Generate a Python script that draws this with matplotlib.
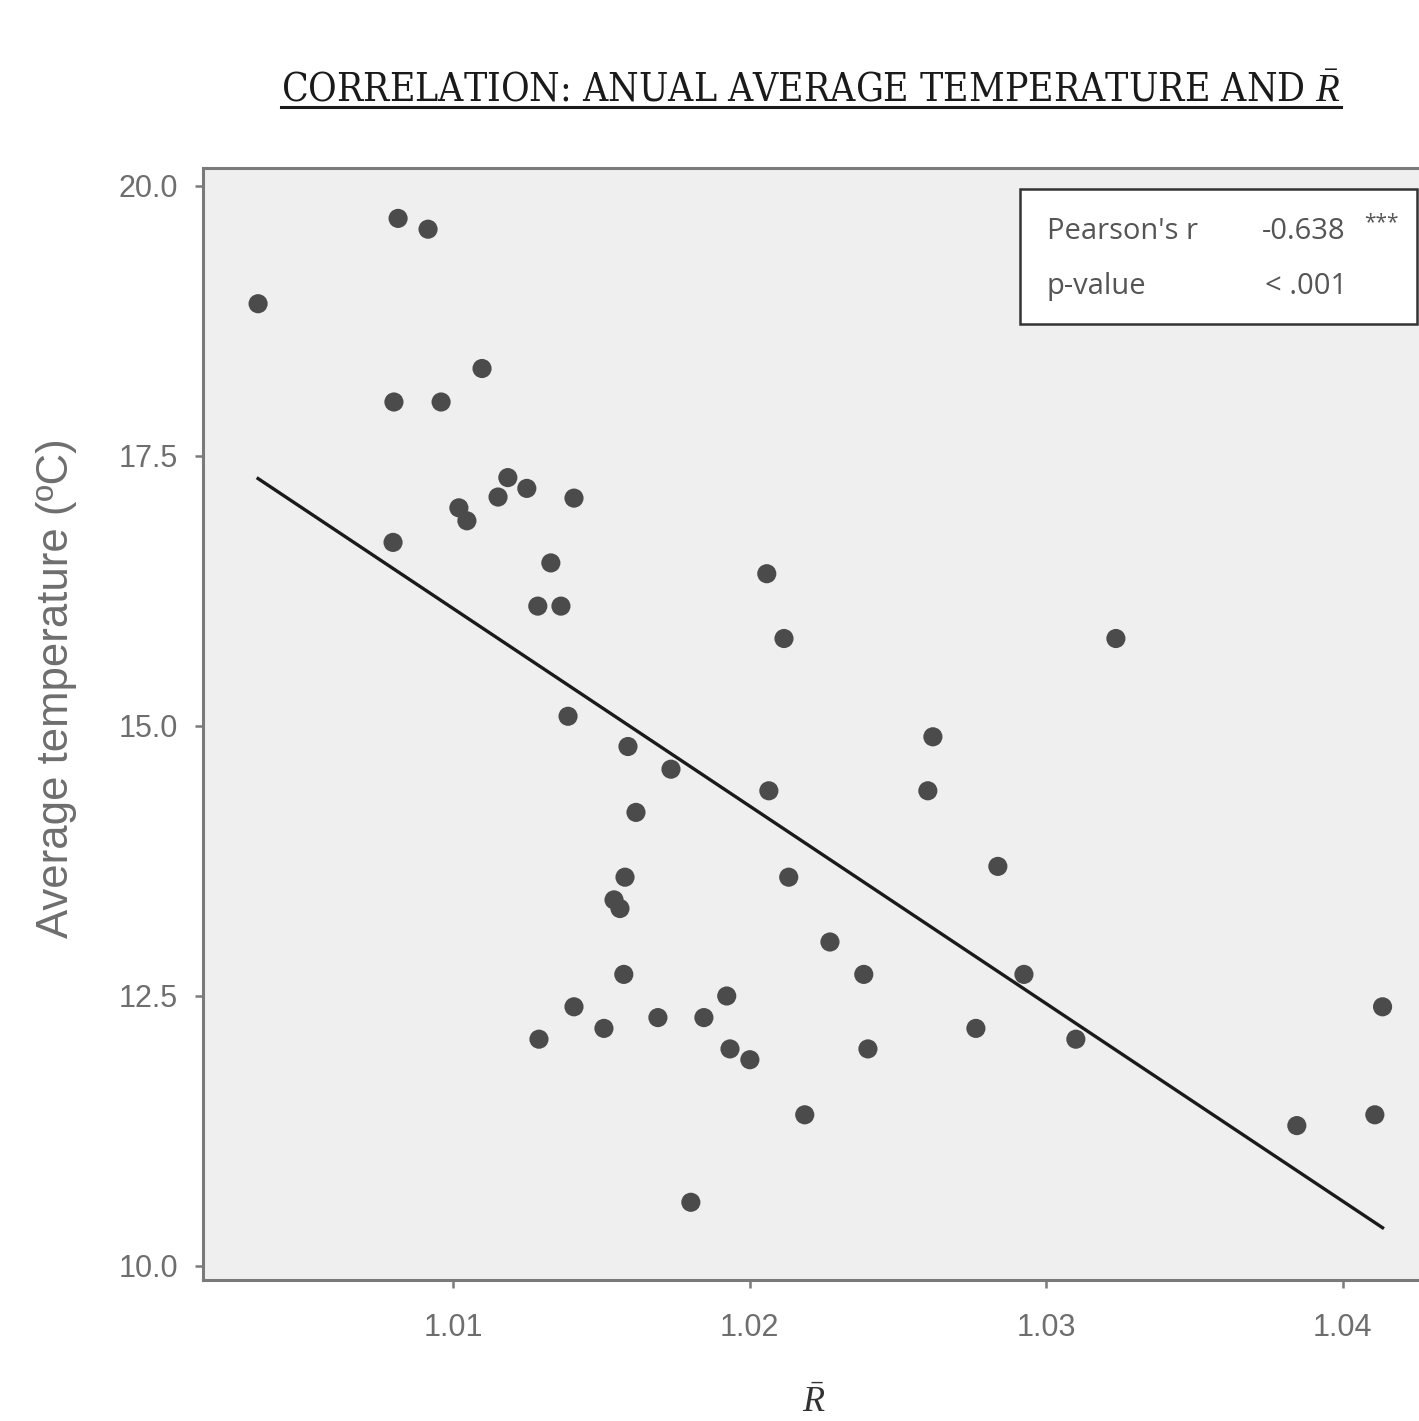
import numpy as np
import matplotlib
matplotlib.use("Agg")
import matplotlib.pyplot as plt
from matplotlib import font_manager
from matplotlib.patches import Rectangle
from matplotlib.lines import Line2D

# Mean R-bar per station and annual average temperature (ºC)
r_bar = [
    1.00343, 1.00815, 1.00916, 1.00801, 1.00960, 1.01098, 1.00798, 1.01020,
    1.01047, 1.01152, 1.01185, 1.01249, 1.01408, 1.01330, 1.01286, 1.01364,
    1.01388, 1.01590, 1.01735, 1.01617, 1.01580, 1.01543, 1.01563, 1.01576,
    1.01408, 1.01290, 1.01509, 1.01691, 1.01846, 1.01923, 1.01934, 1.02001,
    1.01802, 1.02058, 1.02116, 1.02065, 1.02132, 1.02186, 1.02271, 1.02385,
    1.02399, 1.02618, 1.02601, 1.02763, 1.02837, 1.02925, 1.03100, 1.03235,
    1.03845, 1.04108, 1.04134,
]
temp = [
    18.91, 19.70, 19.60, 18.00, 18.00, 18.31, 16.70, 17.02,
    16.90, 17.12, 17.30, 17.20, 17.11, 16.51, 16.11, 16.11,
    15.09, 14.81, 14.60, 14.20, 13.60, 13.39, 13.31, 12.70,
    12.40, 12.10, 12.20, 12.30, 12.30, 12.50, 12.01, 11.91,
    10.59, 16.41, 15.81, 14.40, 13.60, 11.40, 13.00, 12.70,
    12.01, 14.90, 14.40, 12.20, 13.70, 12.70, 12.10, 15.81,
    11.30, 11.40, 12.40,
]

stat_labels = ["Pearson's r", "p-value"]
stat_values = ["-0.638", "< .001"]
stat_stars = "***"

x_ticks = [1.01, 1.02, 1.03, 1.04]
y_ticks = [10.0, 12.5, 15.0, 17.5, 20.0]

# condensed serif for the title if it's around, otherwise Liberation Serif
has_cond = any(f.name == "DejaVu Serif" and "ondensed" in f.fname
               for f in font_manager.fontManager.ttflist)
title_kw = (dict(family="DejaVu Serif", stretch="condensed", fontsize=28)
            if has_cond else dict(family="Liberation Serif", fontsize=28.5))

plt.rcParams["mathtext.fontset"] = "custom"
plt.rcParams["mathtext.rm"] = "Liberation Serif"
plt.rcParams["mathtext.it"] = "Liberation Serif:italic"

grey = "#6e6e6e"
spine_c = "#7a7a7a"

fig = plt.figure(figsize=(14.19, 14.21), dpi=100)
ax = fig.add_axes([0.143, 0.0992, 0.861, 0.7826])
ax.set_facecolor("#efefef")

x = np.array(r_bar)
y = np.array(temp)
ax.scatter(x, y, s=190, color="#4b4b4b", edgecolors="none", zorder=3)

# least-squares fit across the observed range
slope, icpt = np.polyfit(x, y, 1)
xs = np.array([x.min(), x.max()])
ax.plot(xs, slope * xs + icpt, color="#1a1a1a", lw=2.4, zorder=2)

ax.set_xlim(1.00157, 1.04276)
ax.set_ylim(9.87, 20.167)
ax.set_xticks(x_ticks)
ax.set_xticklabels([f"{v:.2f}" for v in x_ticks])
ax.set_yticks(y_ticks)
ax.set_yticklabels([f"{v:.1f}" for v in y_ticks])
ax.tick_params(length=6, width=1.8, color=spine_c, labelcolor=grey,
               labelsize=22, pad=12)
ax.tick_params(axis="x", pad=18)
for lab in ax.get_xticklabels() + ax.get_yticklabels():
    lab.set_fontfamily("Liberation Sans")
for s in ax.spines.values():
    s.set_color(spine_c)
    s.set_linewidth(2.2)

ax.set_ylabel("Average temperature (ºC)", fontsize=31.5, color=grey,
              family="Liberation Sans")
ax.yaxis.set_label_coords(-0.103, 0.532)
ax.set_xlabel(r"$\bar{R}$", fontsize=26, color="#333333", labelpad=30)

# stats box
ax.add_patch(Rectangle((0.6686, 0.8597), 0.3249, 0.1214, transform=ax.transAxes,
                       facecolor="white", edgecolor="#333333", lw=1.8, zorder=4))
for i, (lab, val) in enumerate(zip(stat_labels, stat_values)):
    yy = 0.9433 - i * 0.0503
    ax.text(0.6907, yy, lab, transform=ax.transAxes, fontsize=21, color="#555555",
            family="Open Sans", va="center", zorder=5)
    ax.text(0.8666 + (0.003 if i else 0), yy, val, transform=ax.transAxes,
            fontsize=21, color="#555555", family="Open Sans", va="center", zorder=5)
ax.text(0.9505, 0.9505, stat_stars, transform=ax.transAxes, fontsize=15,
        color="#555555", family="Open Sans", va="center", zorder=5)

title = fig.text(0.5715, 0.936, r"CORRELATION: ANUAL AVERAGE TEMPERATURE AND $\bar{R}$",
                 ha="center", va="center", color="#1a1a1a", **title_kw)
fig.canvas.draw()
bb = title.get_window_extent().transformed(fig.transFigure.inverted())
fig.add_artist(Line2D([bb.x0, bb.x1], [bb.y0 + 0.002, bb.y0 + 0.002],
                      transform=fig.transFigure, color="#1a1a1a", lw=2.2))

fig.savefig("out.png", dpi=100)
